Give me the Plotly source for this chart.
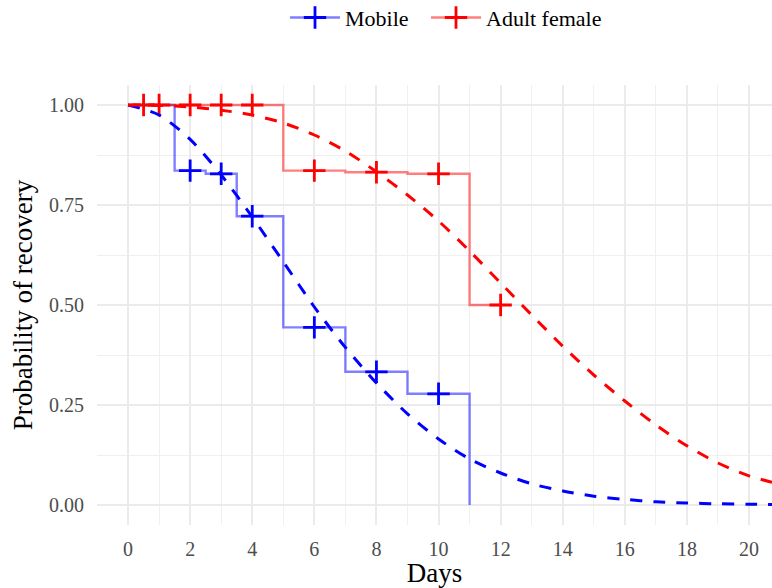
import plotly.graph_objects as go

# ---- data ----
series_names = ["Mobile", "Adult female"]

mobile_step_days = [0, 1.5, 2.5, 3.5, 5, 7, 9, 11]
mobile_step_surv = [1.0, 0.836, 0.828, 0.722, 0.444, 0.333, 0.278, 0.0]
mobile_cens_days = [2, 3, 4, 6, 8, 10]
mobile_cens_surv = [0.836, 0.828, 0.722, 0.444, 0.333, 0.278]

female_step_days = [0, 5, 7, 9, 11, 12]
female_step_surv = [1.0, 0.836, 0.832, 0.828, 0.5, 0.5]
female_cens_days = [0.5, 1, 2, 3, 4, 6, 8, 10, 12]
female_cens_surv = [1.0, 1.0, 1.0, 1.0, 1.0, 0.836, 0.832, 0.828, 0.5]

fit_days = [0, 1, 2, 3, 4, 5, 6, 7, 8, 9, 10, 11, 12, 13, 14, 15, 16, 17, 18, 19, 20, 20.74]
mobile_fit = [1.0, 0.975, 0.914, 0.825, 0.72, 0.608, 0.495, 0.394, 0.305, 0.228, 0.165,
              0.115, 0.08, 0.053, 0.035, 0.022, 0.014, 0.008, 0.005, 0.003, 0.002, 0.001]
female_fit = [1.0, 0.999, 0.995, 0.987, 0.975, 0.955, 0.925, 0.885, 0.833, 0.775, 0.71,
              0.635, 0.555, 0.475, 0.397, 0.325, 0.26, 0.2, 0.148, 0.105, 0.073, 0.057]

x_ticks = [0, 2, 4, 6, 8, 10, 12, 14, 16, 18, 20]
y_ticks = [0.0, 0.25, 0.5, 0.75, 1.0]
y_tick_labels = ["0.00", "0.25", "0.50", "0.75", "1.00"]

colors = {"Mobile": "rgb(0,0,255)", "Adult female": "rgb(255,0,0)"}
faded = {"Mobile": "rgba(0,0,255,0.5)", "Adult female": "rgba(255,0,0,0.5)"}
legend_ids = {"Mobile": "legend", "Adult female": "legend2"}

FONT = "Liberation Serif, Times New Roman, serif"

fig = go.Figure()

steps = {"Mobile": (mobile_step_days, mobile_step_surv),
         "Adult female": (female_step_days, female_step_surv)}
cens = {"Mobile": (mobile_cens_days, mobile_cens_surv),
        "Adult female": (female_cens_days, female_cens_surv)}
fits = {"Mobile": mobile_fit, "Adult female": female_fit}

for name in series_names:
    sx, sy = steps[name]
    fig.add_trace(go.Scatter(x=sx, y=sy, mode="lines", line=dict(color=faded[name], width=2.4, shape="hv"),
                             showlegend=False, hoverinfo="skip"))
for name in series_names:
    cx, cy = cens[name]
    fig.add_trace(go.Scatter(x=cx, y=cy, mode="markers",
                             marker=dict(symbol="cross-thin", size=16, line=dict(color=colors[name], width=2.8)),
                             showlegend=False))
for name in series_names:
    fig.add_trace(go.Scatter(x=fit_days, y=fits[name], mode="lines",
                             line=dict(color=colors[name], width=3, dash="12px,11px", shape="spline", smoothing=0.8),
                             showlegend=False, hoverinfo="skip"))
# legend entries
for name in series_names:
    fig.add_trace(go.Scatter(x=[None], y=[None], mode="lines+markers", name=name, legend=legend_ids[name],
                             line=dict(color=faded[name], width=2.4),
                             marker=dict(symbol="cross-thin", size=16, line=dict(color=colors[name], width=2.8))))

legend_common = dict(orientation="h", xanchor="left", y=1.153, yanchor="middle",
                     font=dict(size=22, color="black", family=FONT), itemwidth=50,
                     bgcolor="rgba(0,0,0,0)")

fig.update_layout(
    width=772, height=588,
    margin=dict(l=97, r=0, t=85, b=63, autoexpand=False),
    paper_bgcolor="white", plot_bgcolor="white",
    font=dict(family=FONT, color="black"),
    legend=dict(x=(285 - 97) / 675, **legend_common),
    legend2=dict(x=(426 - 97) / 675, **legend_common),
    showlegend=True,
)
fig.update_xaxes(
    range=[-1.0, 20.74], tickmode="array", tickvals=x_ticks, automargin=False,
    showgrid=True, gridcolor="#ebebeb", gridwidth=1.7,
    minor=dict(dtick=1, tick0=0, showgrid=True, gridcolor="#f0f0f0", gridwidth=1.1),
    zeroline=False, showline=False, ticks="",
    tickfont=dict(size=20, color="#4d4d4d", family=FONT), ticklabelstandoff=10,
    title=dict(text="Days", font=dict(size=27, color="black", family=FONT), standoff=6),
)
fig.update_yaxes(
    range=[-0.05, 1.05], tickmode="array", tickvals=y_ticks, ticktext=y_tick_labels, automargin=False,
    showgrid=True, gridcolor="#ebebeb", gridwidth=1.7,
    minor=dict(dtick=0.125, tick0=0, showgrid=True, gridcolor="#f0f0f0", gridwidth=1.1),
    zeroline=False, showline=False, ticks="",
    tickfont=dict(size=20, color="#4d4d4d", family=FONT), ticklabelstandoff=12,
    title=dict(text="Probability of recovery", font=dict(size=27, color="black", family=FONT), standoff=8),
)

fig.write_html("out.html", config={"displayModeBar": False},
               post_script="document.body.style.margin='0';")
